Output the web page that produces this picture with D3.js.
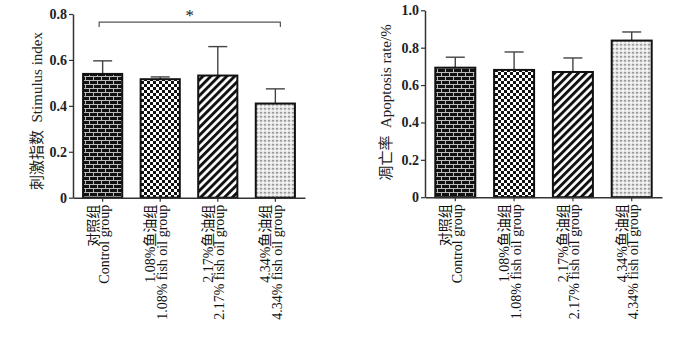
<!DOCTYPE html>
<html>
<head>
<meta charset="utf-8">
<script src="https://cdn.jsdelivr.net/npm/d3@7"></script>
<style>
  body { margin: 0; background: #fff; }
  svg { display: block; font-family: "Liberation Serif", "Noto Sans CJK SC", serif; }
</style>
</head>
<body>
<div id="chart"></div>
<script>
'use strict'

////////////////////////////////////
/////////////// data ///////////////
////////////////////////////////////

const groupsCn = ["对照组", "1.08%鱼油组", "2.17%鱼油组", "4.34%鱼油组"]
const groupsEn = ["Control group", "1.08% fish oil group", "2.17% fish oil group", "4.34% fish oil group"]

const stimulusMean = [0.539, 0.516, 0.532, 0.410]
const stimulusErr = [0.057, 0.010, 0.126, 0.064]
const stimulusTicks = [0, 0.2, 0.4, 0.6, 0.8]

const apoptosisMean = [0.693, 0.681, 0.670, 0.838]
const apoptosisErr = [0.056, 0.096, 0.075, 0.046]
const apoptosisTicks = [0, 0.2, 0.4, 0.6, 0.8, 1.0]

// significance bracket on the left panel: [from, to, height, label]
const stimulusSig = [[0, 3, 0.765, "*"]]

const patterns = ["brick", "checker", "stripe", "dots"]

////////////////////////////////////
//////////// svg setup /////////////
////////////////////////////////////

const svgWidth = 700
const svgHeight = 345

const svg = d3.select("#chart")
    .append("svg")
    .attr("width", svgWidth)
    .attr("height", svgHeight)

const defs = svg.append("defs")

// brick: black with grey mortar lines
const brick = defs.append("pattern").attr("id", "brick")
    .attr("patternUnits", "userSpaceOnUse").attr("width", 8).attr("height", 8)
brick.append("rect").attr("width", 8).attr("height", 8).attr("fill", "#111")
brick.append("path")
    .attr("d", "M0,0.5H8M0,4.5H8M1.5,0V4M5.5,4V8")
    .attr("stroke", "#bbb").attr("stroke-width", 1)

// checkerboard
const checker = defs.append("pattern").attr("id", "checker")
    .attr("patternUnits", "userSpaceOnUse").attr("width", 6).attr("height", 6)
checker.append("rect").attr("width", 6).attr("height", 6).attr("fill", "#fff")
checker.append("path").attr("d", "M0,0h3v3h-3zM3,3h3v3h-3z").attr("fill", "#111")

// diagonal stripes, lower-left to upper-right
const stripe = defs.append("pattern").attr("id", "stripe")
    .attr("patternUnits", "userSpaceOnUse").attr("width", 5.6).attr("height", 5.6)
    .attr("patternTransform", "rotate(45)")
stripe.append("rect").attr("width", 5.6).attr("height", 5.6).attr("fill", "#fff")
stripe.append("rect").attr("width", 2.9).attr("height", 5.6).attr("fill", "#111")

// light dotted
const dots = defs.append("pattern").attr("id", "dots")
    .attr("patternUnits", "userSpaceOnUse").attr("width", 4).attr("height", 4)
dots.append("rect").attr("width", 4).attr("height", 4).attr("fill", "#e2e2e2")
dots.append("rect").attr("width", 2).attr("height", 1.5).attr("fill", "#9a9a9a")
dots.append("rect").attr("x", 2).attr("y", 2).attr("width", 2).attr("height", 1.5).attr("fill", "#fafafa")

////////////////////////////////////
////////////// panel ///////////////
////////////////////////////////////

const tickFmt = d => d === 0 ? "0" : d3.format(".1f")(d)

function panel(opt) {
    const x = d3.scaleBand()
        .domain(d3.range(groupsEn.length))
        .range([opt.x0, opt.x1])
        .paddingInner(0.32)
        .paddingOuter(0.175)

    const y = d3.scaleLinear()
        .domain([0, d3.max(opt.ticks)])
        .range([opt.y0, opt.y1])

    const g = svg.append("g")

    // y axis
    const yAxis = g.append("g")
        .attr("transform", `translate(${opt.x0},0)`)
        .call(d3.axisLeft(y).tickValues(opt.ticks).tickFormat(tickFmt).tickSize(4).tickSizeOuter(0).tickPadding(2))
    yAxis.select(".domain").attr("stroke", "#333").attr("stroke-width", 1.5)
    yAxis.selectAll(".tick line").attr("stroke", "#333").attr("stroke-width", 1.2)
    yAxis.selectAll(".tick text")
        .attr("font-family", "Liberation Serif, serif")
        .attr("font-size", 14)
        .attr("font-weight", "bold")
        .attr("fill", "#222")

    // error bars (upper only)
    const eb = g.append("g").attr("stroke", "#444").attr("stroke-width", 1.4)
    eb.selectAll(".stem")
        .data(opt.mean)
        .join("line")
        .attr("x1", (d, i) => x(i) + x.bandwidth() / 2)
        .attr("x2", (d, i) => x(i) + x.bandwidth() / 2)
        .attr("y1", d => y(d))
        .attr("y2", (d, i) => y(d + opt.err[i]))
    eb.selectAll(".cap")
        .data(opt.mean)
        .join("line")
        .attr("x1", (d, i) => x(i) + x.bandwidth() / 2 - 9.5)
        .attr("x2", (d, i) => x(i) + x.bandwidth() / 2 + 9.5)
        .attr("y1", (d, i) => y(d + opt.err[i]))
        .attr("y2", (d, i) => y(d + opt.err[i]))

    // bars
    g.append("g")
        .selectAll("rect")
        .data(opt.mean)
        .join("rect")
        .attr("x", (d, i) => x(i))
        .attr("y", d => y(d))
        .attr("width", x.bandwidth())
        .attr("height", d => y(0) - y(d))
        .attr("fill", (d, i) => `url(#${patterns[i]})`)
        .attr("stroke", "#111")
        .attr("stroke-width", 2)

    // x axis
    const xAxis = g.append("g")
        .attr("transform", `translate(0,${opt.y0})`)
        .call(d3.axisBottom(x).tickSize(4).tickSizeOuter(0).tickFormat(""))
    xAxis.select(".domain").attr("stroke", "#333").attr("stroke-width", 1.5)
    xAxis.selectAll(".tick line").attr("stroke", "#333").attr("stroke-width", 1.2)

    // rotated two-line category labels
    const lab = g.append("g")
        .selectAll("g")
        .data(groupsEn)
        .join("g")
        .attr("transform", (d, i) => `translate(${x(i) + x.bandwidth() / 2},${opt.y0 + 7}) rotate(-90)`)
        .attr("font-size", 14)
        .attr("fill", "#111")
        .attr("text-anchor", "end")
    lab.append("text")
        .attr("y", -5)
        .text((d, i) => groupsCn[i])
    lab.append("text")
        .attr("y", 6.5)
        .text(d => d)

    // y title
    g.append("text")
        .attr("transform", `translate(${opt.titleX},${opt.titleY}) rotate(-90)`)
        .attr("text-anchor", "middle")
        .attr("font-size", 15)
        .attr("fill", "#222")
        .text(opt.title)

    // significance
    const sig = g.append("g")
    ;(opt.sig || []).forEach(s => {
        const xa = x(s[0]) + x.bandwidth() / 2 - 3.5
        const xb = x(s[1]) + x.bandwidth() / 2 + 5
        const ys = y(s[2])
        sig.append("path")
            .attr("d", `M${xa},${ys + 5}V${ys}H${xb}V${ys + 5}`)
            .attr("fill", "none")
            .attr("stroke", "#555")
            .attr("stroke-width", 1.2)
        sig.append("text")
            .attr("x", (xa + xb) / 2)
            .attr("y", ys - 1)
            .attr("text-anchor", "middle")
            .attr("font-size", 17)
            .attr("fill", "#222")
            .text(s[3])
    })
}

////////////////////////////////////
//////////// add to DOM ////////////
////////////////////////////////////

panel({
    mean: stimulusMean, err: stimulusErr, ticks: stimulusTicks, sig: stimulusSig,
    x0: 73, x1: 305, y0: 197.7, y1: 14,
    title: "刺激指数\u00a0\u00a0Stimulus index", titleX: 42, titleY: 111
})

panel({
    mean: apoptosisMean, err: apoptosisErr, ticks: apoptosisTicks,
    x0: 425, x1: 662, y0: 197.2, y1: 10.3,
    title: "凋亡率\u00a0\u00a0Apoptosis rate/%", titleX: 391, titleY: 102.5
})
</script>
</body>
</html>
